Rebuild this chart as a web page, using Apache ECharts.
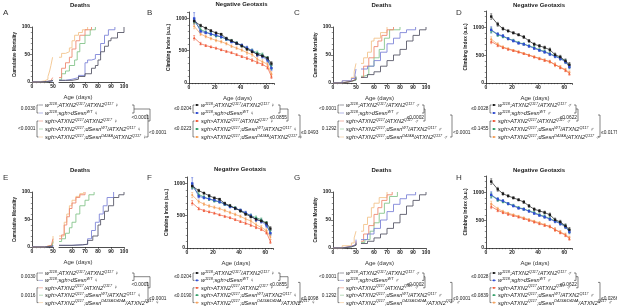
<!DOCTYPE html>
<html>
<head>
<meta charset="utf-8">
<script src="https://cdn.jsdelivr.net/npm/echarts@6/dist/echarts.min.js"></script>
<style>
  html, body { margin: 0; padding: 0; background: #fff; }
  #chart { width: 617px; height: 308px; }
</style>
</head>
<body>
<div id="chart"></div>
<script>
// ---- data: cumulative mortality, [day, %] ----
const deathA_gray   = [[0,0],[20,1],[35,2],[45,3],[55,3],[60,5],[65,10],[70,15],[75,25],[78,30],[80,40],[82,55],[85,65],[88,75],[90,80],[95,90],[100,100]];
const deathA_blue   = [[0,0],[25,1],[40,2],[50,3],[55,5],[60,8],[65,12],[70,35],[72,40],[75,42],[78,50],[82,70],[85,85],[88,95],[93,100]];
const deathA_red    = [[0,0],[30,2],[45,4],[49,8],[52,25],[55,35],[58,45],[60,60],[63,75],[66,85],[70,95],[75,100]];
const deathA_green  = [[0,0],[35,2],[48,4],[52,15],[55,20],[58,30],[62,40],[64,55],[66,70],[70,85],[74,95],[78,100]];
const deathA_orange = [[0,0],[15,2],[30,5],[38,10],[42,20],[45,30],[49,45],[52,52],[55,55],[58,62],[60,75],[62,85],[65,90],[68,95],[72,100]];

const deathC_gray   = [[0,0],[20,3],[40,6],[50,10],[55,15],[60,20],[65,30],[70,40],[75,50],[80,60],[85,75],[90,85],[95,95],[100,100]];
const deathC_blue   = [[0,0],[20,4],[40,8],[48,15],[50,25],[55,30],[60,40],[65,55],[70,70],[75,80],[80,90],[85,95],[92,100]];
const deathC_red    = [[0,0],[20,3],[40,6],[48,10],[52,30],[56,45],[60,65],[63,75],[66,85],[70,95],[75,100]];
const deathC_green  = [[0,0],[20,3],[40,5],[50,12],[52,15],[56,30],[60,45],[64,60],[68,80],[72,95],[80,100]];
const deathC_orange = [[0,0],[20,4],[40,10],[46,20],[50,35],[52,45],[55,55],[58,75],[60,80],[65,90],[70,100]];

const deathE_gray   = [[0,0],[30,2],[50,3],[60,4],[68,5],[72,12],[76,20],[80,40],[82,50],[85,65],[88,75],[92,90],[96,95],[100,100]];
const deathE_blue   = [[0,0],[30,1],[50,3],[60,4],[68,5],[72,15],[75,30],[78,45],[81,60],[84,75],[87,90],[92,100]];
const deathE_red    = [[0,0],[30,3],[46,5],[50,15],[52,22],[54,40],[56,55],[58,70],[60,80],[63,90],[66,95],[70,100]];
const deathE_green  = [[0,0],[30,2],[48,4],[50,10],[52,15],[55,25],[58,35],[60,45],[63,60],[66,75],[70,85],[73,95],[77,100]];
const deathE_orange = [[0,0],[30,3],[45,6],[50,20],[52,20],[54,45],[56,60],[58,75],[60,85],[63,92],[66,97],[69,100]];

const deathG_gray   = [[0,0],[20,2],[40,5],[50,8],[55,12],[60,18],[65,25],[70,35],[75,45],[80,60],[85,75],[90,85],[95,95],[100,100]];
const deathG_blue   = [[0,0],[20,3],[40,6],[50,15],[55,25],[60,35],[65,50],[70,65],[75,78],[80,88],[85,95],[92,100]];
const deathG_red    = [[0,0],[20,3],[40,6],[50,12],[52,25],[56,40],[60,60],[63,72],[66,85],[70,95],[74,100]];
const deathG_green  = [[0,0],[20,2],[40,5],[50,10],[53,15],[57,30],[60,45],[64,62],[68,80],[72,92],[78,100]];
const deathG_orange = [[0,0],[20,4],[40,9],[46,18],[50,30],[52,42],[55,55],[58,72],[60,80],[64,90],[70,100]];

// ---- data: negative geotaxis, climbing index (mean, error) ----
const geoDays = [4, 9, 13, 17, 21, 25, 29, 33, 37, 41, 45, 49, 53, 57, 61, 64];

const geoB_black  = [960, 890, 850, 810, 775, 755, 690, 655, 615, 575, 525, 485, 445, 420, 385, 300];
const geoB_blue   = [1000, 800, 780, 760, 740, 715, 680, 640, 615, 585, 545, 500, 440, 415, 350, 230];
const geoB_red    = [700, 610, 580, 560, 540, 515, 490, 470, 440, 410, 385, 355, 320, 290, 240, 100];
const geoB_green  = [960, 830, 790, 760, 730, 715, 680, 650, 620, 580, 540, 500, 470, 440, 380, 240];
const geoB_orange = [880, 760, 720, 690, 660, 640, 610, 570, 540, 510, 470, 440, 370, 330, 290, 140];
const geoB_err    = [
  [30, 20, 15, 15, 15, 15, 20, 20, 20, 20, 20, 20, 25, 25, 25, 30],
  [90, 25, 20, 20, 20, 20, 20, 20, 20, 20, 25, 25, 30, 30, 30, 35],
  [35, 20, 15, 15, 15, 15, 15, 15, 15, 15, 20, 20, 20, 20, 25, 30],
  [40, 25, 20, 20, 20, 20, 20, 20, 20, 20, 20, 25, 25, 25, 30, 30],
  [40, 25, 20, 20, 20, 20, 20, 20, 20, 20, 25, 25, 30, 30, 30, 35]
];

const geoD_black  = [1200, 1060, 980, 940, 905, 870, 830, 760, 700, 670, 640, 600, 510, 470, 400, 330];
const geoD_blue   = [960, 880, 850, 800, 760, 720, 700, 665, 625, 590, 560, 520, 480, 440, 380, 290];
const geoD_red    = [750, 680, 640, 610, 585, 560, 530, 500, 470, 440, 410, 390, 330, 280, 230, 170];
const geoD_green  = [950, 870, 840, 800, 770, 730, 705, 670, 640, 600, 570, 530, 490, 450, 390, 300];
const geoD_orange = [790, 700, 650, 620, 590, 565, 535, 505, 475, 445, 415, 380, 330, 290, 240, 190];
const geoD_err    = [
  [50, 35, 25, 20, 20, 20, 25, 25, 25, 25, 25, 30, 30, 30, 35, 40],
  [55, 30, 25, 20, 20, 20, 20, 20, 20, 20, 25, 25, 25, 30, 30, 35],
  [40, 25, 20, 15, 15, 15, 15, 15, 15, 20, 20, 20, 25, 25, 25, 30],
  [45, 30, 25, 20, 20, 20, 20, 20, 20, 20, 25, 25, 25, 30, 30, 35],
  [45, 25, 20, 15, 15, 15, 15, 15, 15, 20, 20, 25, 35, 25, 25, 30]
];

const geoF_black  = [960, 890, 850, 810, 775, 755, 690, 655, 615, 575, 525, 485, 445, 420, 385, 300];
const geoF_blue   = [1000, 800, 780, 760, 740, 715, 680, 640, 615, 585, 545, 500, 440, 415, 350, 230];
const geoF_red    = [700, 610, 580, 560, 540, 515, 490, 470, 440, 410, 385, 355, 320, 290, 240, 100];
const geoF_green  = [960, 830, 790, 760, 730, 715, 680, 650, 620, 580, 540, 500, 470, 440, 380, 240];
const geoF_orange = [820, 720, 680, 650, 630, 610, 580, 550, 520, 490, 450, 420, 360, 320, 270, 170];
const geoF_err    = geoB_err;

const geoH_black  = [1200, 1060, 980, 940, 905, 870, 830, 760, 700, 670, 640, 600, 510, 470, 400, 330];
const geoH_blue   = [960, 880, 850, 800, 760, 720, 700, 665, 625, 590, 560, 520, 480, 440, 380, 290];
const geoH_red    = [750, 680, 640, 610, 585, 560, 530, 500, 470, 440, 410, 390, 330, 280, 230, 170];
const geoH_green  = [950, 870, 840, 800, 770, 730, 705, 670, 640, 600, 570, 530, 490, 450, 390, 300];
const geoH_orange = [800, 710, 660, 630, 600, 575, 545, 515, 485, 455, 420, 385, 335, 290, 245, 185];
const geoH_err    = geoD_err;

// p-values shown beside the legends
const pA = ['0.0030', '<0.0001', '<0.0001', '<0.0001'];
const pB = ['≤0.0204', '≤0.0223', '≤0.0855', '≤0.0493'];
const pC = ['<0.0001', '0.1292', '≤0.0002', '<0.0001'];
const pD = ['≤0.0028', '≤0.1455', '≤0.0622', '≤0.0179'];
const pE = ['0.0030', '0.0016', '<0.0001', '<0.0001'];
const pF = ['≤0.0204', '≤0.0190', '≤0.0855', '≤0.0098'];
const pG = ['<0.0001', '0.1292', '≤0.0002', '<0.0001'];
const pH = ['≤0.0028', '≤0.0839', '≤0.0622', '≤0.0266'];

const DEATH_COL = ['#5a5a6a', '#7f86d8', '#ee8a72', '#86c58c', '#f3c48c'];
const GEO_COL   = ['#1b1b1b', '#2f4bd0', '#ef5b3b', '#2f9d66', '#f4a05a'];

const chart = echarts.init(document.getElementById('chart'));
const grids = [], xAxes = [], yAxes = [], series = [], graphics = [];
const FONT = 'Liberation Sans, Arial, sans-serif';

function txt(x, y, text, opts) {
  graphics.push({
    type: 'text', x: x, y: y, silent: true,
    rotation: (opts && opts.rot) || 0,
    style: Object.assign({
      text: text, fill: '#222', font: '5px ' + FONT,
      textAlign: 'left', textVerticalAlign: 'middle'
    }, (opts && opts.style) || {})
  });
}
function poly(points, color) {
  graphics.push({
    type: 'polyline', silent: true,
    shape: { points: points },
    style: { stroke: color || '#333', lineWidth: 0.6, fill: null }
  });
}

function addGrid(left, top, width, height) {
  grids.push({ left: left, top: top, width: width, height: height, containLabel: false });
  return grids.length - 1;
}

const axisLbl = { fontSize: 5, color: '#222', fontWeight: 'bold', margin: 2, fontFamily: FONT,
  formatter: function (v) { return String(v); } };
const axisLine = { show: true, lineStyle: { color: '#222', width: 0.8 } };
const axisTick = { show: true, length: 2, lineStyle: { color: '#222', width: 0.6 } };
const minor = function (n) {
  return { show: true, splitNumber: n, length: 1.2, lineStyle: { color: '#222', width: 0.5 } };
};

// cumulative mortality panel with a broken x axis (0-50 | 50-100)
function deathPanel(cfg, curves) {
  const g1 = addGrid(cfg.x0, cfg.top, cfg.x1 - cfg.x0, cfg.bot - cfg.top);
  const g2 = addGrid(cfg.x2, cfg.top, cfg.x3 - cfg.x2, cfg.bot - cfg.top);
  xAxes.push({ gridIndex: g1, type: 'value', min: 0, max: 50, interval: 50,
    axisLine: axisLine, axisTick: axisTick, axisLabel: axisLbl,
    minorTick: minor(5), splitLine: { show: false } });
  xAxes.push({ gridIndex: g2, type: 'value', min: 50, max: 100, interval: 10,
    axisLine: axisLine, axisTick: axisTick,
    axisLabel: Object.assign({}, axisLbl, { showMinLabel: false }),
    splitLine: { show: false } });
  yAxes.push({ gridIndex: g1, type: 'value', min: 0, max: 100, interval: 50,
    axisLine: axisLine, axisTick: axisTick, axisLabel: axisLbl,
    minorTick: minor(5), splitLine: { show: false } });
  yAxes.push({ gridIndex: g2, type: 'value', min: 0, max: 100, show: false, splitLine: { show: false } });
  curves.forEach(function (c, i) {
    let v50 = 0;
    c.forEach(function (p) { if (p[0] <= 50) v50 = p[1]; });
    const a = c.filter(function (p) { return p[0] < 50; }).concat([[50, v50]]);
    const b = [[50, v50]].concat(c.filter(function (p) { return p[0] > 50; }));
    [[a, g1], [b, g2]].forEach(function (pair) {
      series.push({ type: 'line', step: 'end', xAxisIndex: pair[1], yAxisIndex: pair[1],
        data: pair[0], symbol: 'none', silent: true, animation: false,
        lineStyle: { color: DEATH_COL[i], width: 0.9 }, z: 10 - i });
    });
  });
  txt((cfg.x0 + cfg.x3) / 2 + 2, cfg.top - 22, 'Deaths', { style: { font: 'bold 6px ' + FONT, textAlign: 'center' } });
  txt((cfg.x0 + cfg.x3) / 2, cfg.bot + 15, 'Age (days)', { style: { font: '6px ' + FONT, textAlign: 'center', fill: '#333' } });
  txt(cfg.x0 - 17, (cfg.top + cfg.bot) / 2, 'Cumulative Mortality', { rot: Math.PI / 2, style: { font: 'bold 4.6px ' + FONT, textAlign: 'center' } });
}

// error bars drawn on the axis scale
function errSeries(g, vals, errs, color) {
  return {
    type: 'custom', xAxisIndex: g, yAxisIndex: g, silent: true, animation: false, z: 4,
    data: geoDays.map(function (d, k) { return [d, vals[k] - errs[k], vals[k] + errs[k]]; }),
    renderItem: function (params, api) {
      const lo = api.coord([api.value(0), api.value(1)]);
      const hi = api.coord([api.value(0), api.value(2)]);
      const st = { stroke: color, lineWidth: 0.5 };
      return { type: 'group', children: [
        { type: 'line', shape: { x1: lo[0], y1: lo[1], x2: hi[0], y2: hi[1] }, style: st },
        { type: 'line', shape: { x1: hi[0] - 1, y1: hi[1], x2: hi[0] + 1, y2: hi[1] }, style: st },
        { type: 'line', shape: { x1: lo[0] - 1, y1: lo[1], x2: lo[0] + 1, y2: lo[1] }, style: st }
      ] };
    }
  };
}

// climbing index panel
function geoPanel(cfg, lines, errs) {
  const g = addGrid(cfg.x0, cfg.top, cfg.x1 - cfg.x0, cfg.bot - cfg.top);
  xAxes.push({ gridIndex: g, type: 'value', min: 0, max: 66, interval: 20,
    axisLine: axisLine, axisTick: axisTick,
    axisLabel: Object.assign({}, axisLbl, { showMaxLabel: false }),
    minorTick: minor(8), splitLine: { show: false } });
  yAxes.push({ gridIndex: g, type: 'value', min: 0, max: cfg.ymax, interval: 500,
    axisLine: axisLine, axisTick: axisTick,
    axisLabel: Object.assign({}, axisLbl, { showMaxLabel: false }),
    minorTick: minor(5), splitLine: { show: false } });
  const shapes = ['rect', 'rect', 'triangle', 'triangle', 'diamond'];
  lines.forEach(function (vals, i) {
    series.push(errSeries(g, vals, errs[i], GEO_COL[i]));
    series.push({ type: 'line', xAxisIndex: g, yAxisIndex: g,
      data: geoDays.map(function (d, k) { return [d, vals[k]]; }),
      symbol: shapes[i], symbolSize: 2.4, silent: true, animation: false,
      itemStyle: { color: GEO_COL[i] },
      lineStyle: { color: GEO_COL[i], width: 0.7 }, z: 10 - i });
  });
  txt((cfg.x0 + cfg.x1) / 2 + 10, cfg.top - cfg.titleGap, 'Negative Geotaxis', { style: { font: 'bold 6px ' + FONT, textAlign: 'center' } });
  txt((cfg.x0 + cfg.x1) / 2 + 6, cfg.bot + 15, 'Age (days)', { style: { font: '6px ' + FONT, textAlign: 'center', fill: '#333' } });
  txt(cfg.x0 - 20, (cfg.top + cfg.bot) / 2, 'Climbing Index (a.u.)', { rot: Math.PI / 2, style: { font: 'bold 4.8px ' + FONT, textAlign: 'center' } });
}

// genotype legend with brackets and p-values
function legendBlock(cfg, pv, sex, mut, isGeo, colors) {
  const rows = [
    '{i|w}{s|1118}{i|;ATXN2}{s|Q117}{i|/ATXN2}{s|Q117} ' + sex,
    '{i|w}{s|1118}{i|;sgh>dSesn}{s|WT} ' + sex,
    '{i|sgh>ATXN2}{s|Q117}{i|/ATXN2}{s|Q117} ' + sex,
    '{i|sgh>ATXN2}{s|Q117}{i|;dSesn}{s|WT}{i|/ATXN2}{s|Q117} ' + sex,
    '{i|sgh>ATXN2}{s|Q117}{i|;dSesn}{s|' + mut + '}{i|/ATXN2}{s|Q117} ' + sex
  ];
  const ys = rows.map(function (r, k) { return cfg.y + k * cfg.dy; });
  rows.forEach(function (r, k) {
    poly([[cfg.x - 6, ys[k]], [cfg.x - 2, ys[k]]], colors[k]);
    if (isGeo) {
      graphics.push({ type: 'rect', silent: true, shape: { x: cfg.x - 5, y: ys[k] - 0.9, width: 1.8, height: 1.8 }, style: { fill: colors[k] } });
    }
    graphics.push({
      type: 'text', x: cfg.x, y: ys[k], silent: true,
      style: {
        text: r, fill: '#222', font: '5.6px ' + FONT, textVerticalAlign: 'middle',
        rich: {
          i: { fontSize: 5.6, fontStyle: 'italic', fontFamily: FONT, verticalAlign: 'bottom', lineHeight: 7 },
          s: { fontSize: 3.8, fontStyle: 'italic', fontFamily: FONT, verticalAlign: 'top', lineHeight: 7 }
        }
      }
    });
  });
  // left brackets
  const bx = cfg.x - 8;
  poly([[bx + 1.5, ys[0]], [bx, ys[0]], [bx, ys[1]], [bx + 1.5, ys[1]]]);
  poly([[bx + 1.5, ys[2]], [bx, ys[2]], [bx, ys[4]], [bx + 1.5, ys[4]]]);
  txt(bx - 1.5, (ys[0] + ys[1]) / 2, pv[0], { style: { textAlign: 'right', font: '4.8px ' + FONT } });
  txt(bx - 1.5, ys[3], pv[1], { style: { textAlign: 'right', font: '4.8px ' + FONT } });
  // right brackets
  const r1 = cfg.rx1, r2 = cfg.rx2;
  poly([[r1 - 2, ys[0]], [r1, ys[0]], [r1, ys[1]], [r1 - 2, ys[1]]]);
  poly([[r1, (ys[0] + ys[1]) / 2], [r2, (ys[0] + ys[1]) / 2], [r2, ys[2]], [r2 - 2, ys[2]]]);
  txt(r2 - 1, (ys[1] + ys[2]) / 2 + 1, pv[2], { style: { textAlign: 'right', font: '4.8px ' + FONT } });
  const r3 = cfg.rx3;
  poly([[r3 - 2, ys[1] + 2], [r3, ys[1] + 2], [r3, ys[4]], [r3 - 2, ys[4]]]);
  txt(r3 + 1, (ys[3] + ys[4]) / 2, pv[3], { style: { font: '4.8px ' + FONT } });
}

const ROW2 = 165;
[0, ROW2].forEach(function (oy, r) {
  const letters = r === 0 ? ['A', 'B', 'C', 'D'] : ['E', 'F', 'G', 'H'];
  [3, 147, 294, 456].forEach(function (lx, k) {
    txt(lx, oy + 13, letters[k], { style: { font: '8px ' + FONT, fill: '#333' } });
  });
});

// panels
deathPanel({ x0: 32, x1: 53, x2: 59, x3: 124, top: 27, bot: 82 },
  [deathA_gray, deathA_blue, deathA_red, deathA_green, deathA_orange]);
geoPanel({ x0: 189, x1: 274, top: 12, bot: 83, ymax: 1100, titleGap: 8 },
  [geoB_black, geoB_blue, geoB_red, geoB_green, geoB_orange], geoB_err);
deathPanel({ x0: 333, x1: 356, x2: 361, x3: 426, top: 27, bot: 83 },
  [deathC_gray, deathC_blue, deathC_red, deathC_green, deathC_orange]);
geoPanel({ x0: 486, x1: 572, top: 11, bot: 83, ymax: 1300, titleGap: 6 },
  [geoD_black, geoD_blue, geoD_red, geoD_green, geoD_orange], geoD_err);

deathPanel({ x0: 32, x1: 53, x2: 59, x3: 124, top: 27 + ROW2, bot: 82 + ROW2 },
  [deathE_gray, deathE_blue, deathE_red, deathE_green, deathE_orange]);
geoPanel({ x0: 187, x1: 273, top: 12 + ROW2, bot: 83 + ROW2, ymax: 1100, titleGap: 8 },
  [geoF_black, geoF_blue, geoF_red, geoF_green, geoF_orange], geoF_err);
deathPanel({ x0: 333, x1: 356, x2: 361, x3: 426, top: 27 + ROW2, bot: 83 + ROW2 },
  [deathG_gray, deathG_blue, deathG_red, deathG_green, deathG_orange]);
geoPanel({ x0: 486, x1: 572, top: 11 + ROW2, bot: 83 + ROW2, ymax: 1300, titleGap: 6 },
  [geoH_black, geoH_blue, geoH_red, geoH_green, geoH_orange], geoH_err);

legendBlock({ x: 45, y: 105, dy: 8, rx1: 134, rx2: 150, rx3: 148 }, pA, '♀', 'D424A', false, DEATH_COL);
legendBlock({ x: 201, y: 105, dy: 8, rx1: 280, rx2: 288, rx3: 300 }, pB, '♀', 'D424A', true, GEO_COL);
legendBlock({ x: 346, y: 105, dy: 8, rx1: 424, rx2: 425, rx3: 452 }, pC, '♂', 'D424A', false, DEATH_COL);
legendBlock({ x: 498, y: 105, dy: 8, rx1: 576, rx2: 578, rx3: 600 }, pD, '♂', 'D424A', true, GEO_COL);
legendBlock({ x: 45, y: 273, dy: 7.4, rx1: 134, rx2: 150, rx3: 148 }, pE, '♀', 'D423A/D424A', false, DEATH_COL);
legendBlock({ x: 201, y: 273, dy: 7.4, rx1: 280, rx2: 288, rx3: 300 }, pF, '♀', 'D423A/D424A', true, GEO_COL);
legendBlock({ x: 346, y: 273, dy: 7.4, rx1: 424, rx2: 425, rx3: 452 }, pG, '♂', 'D423A/D424A', false, DEATH_COL);
legendBlock({ x: 498, y: 273, dy: 7.4, rx1: 576, rx2: 578, rx3: 600 }, pH, '♂', 'D423A/D424A', true, GEO_COL);

chart.setOption({
  animation: false,
  grid: grids, xAxis: xAxes, yAxis: yAxes, series: series,
  graphic: { elements: graphics }
});
</script>
</body>
</html>
